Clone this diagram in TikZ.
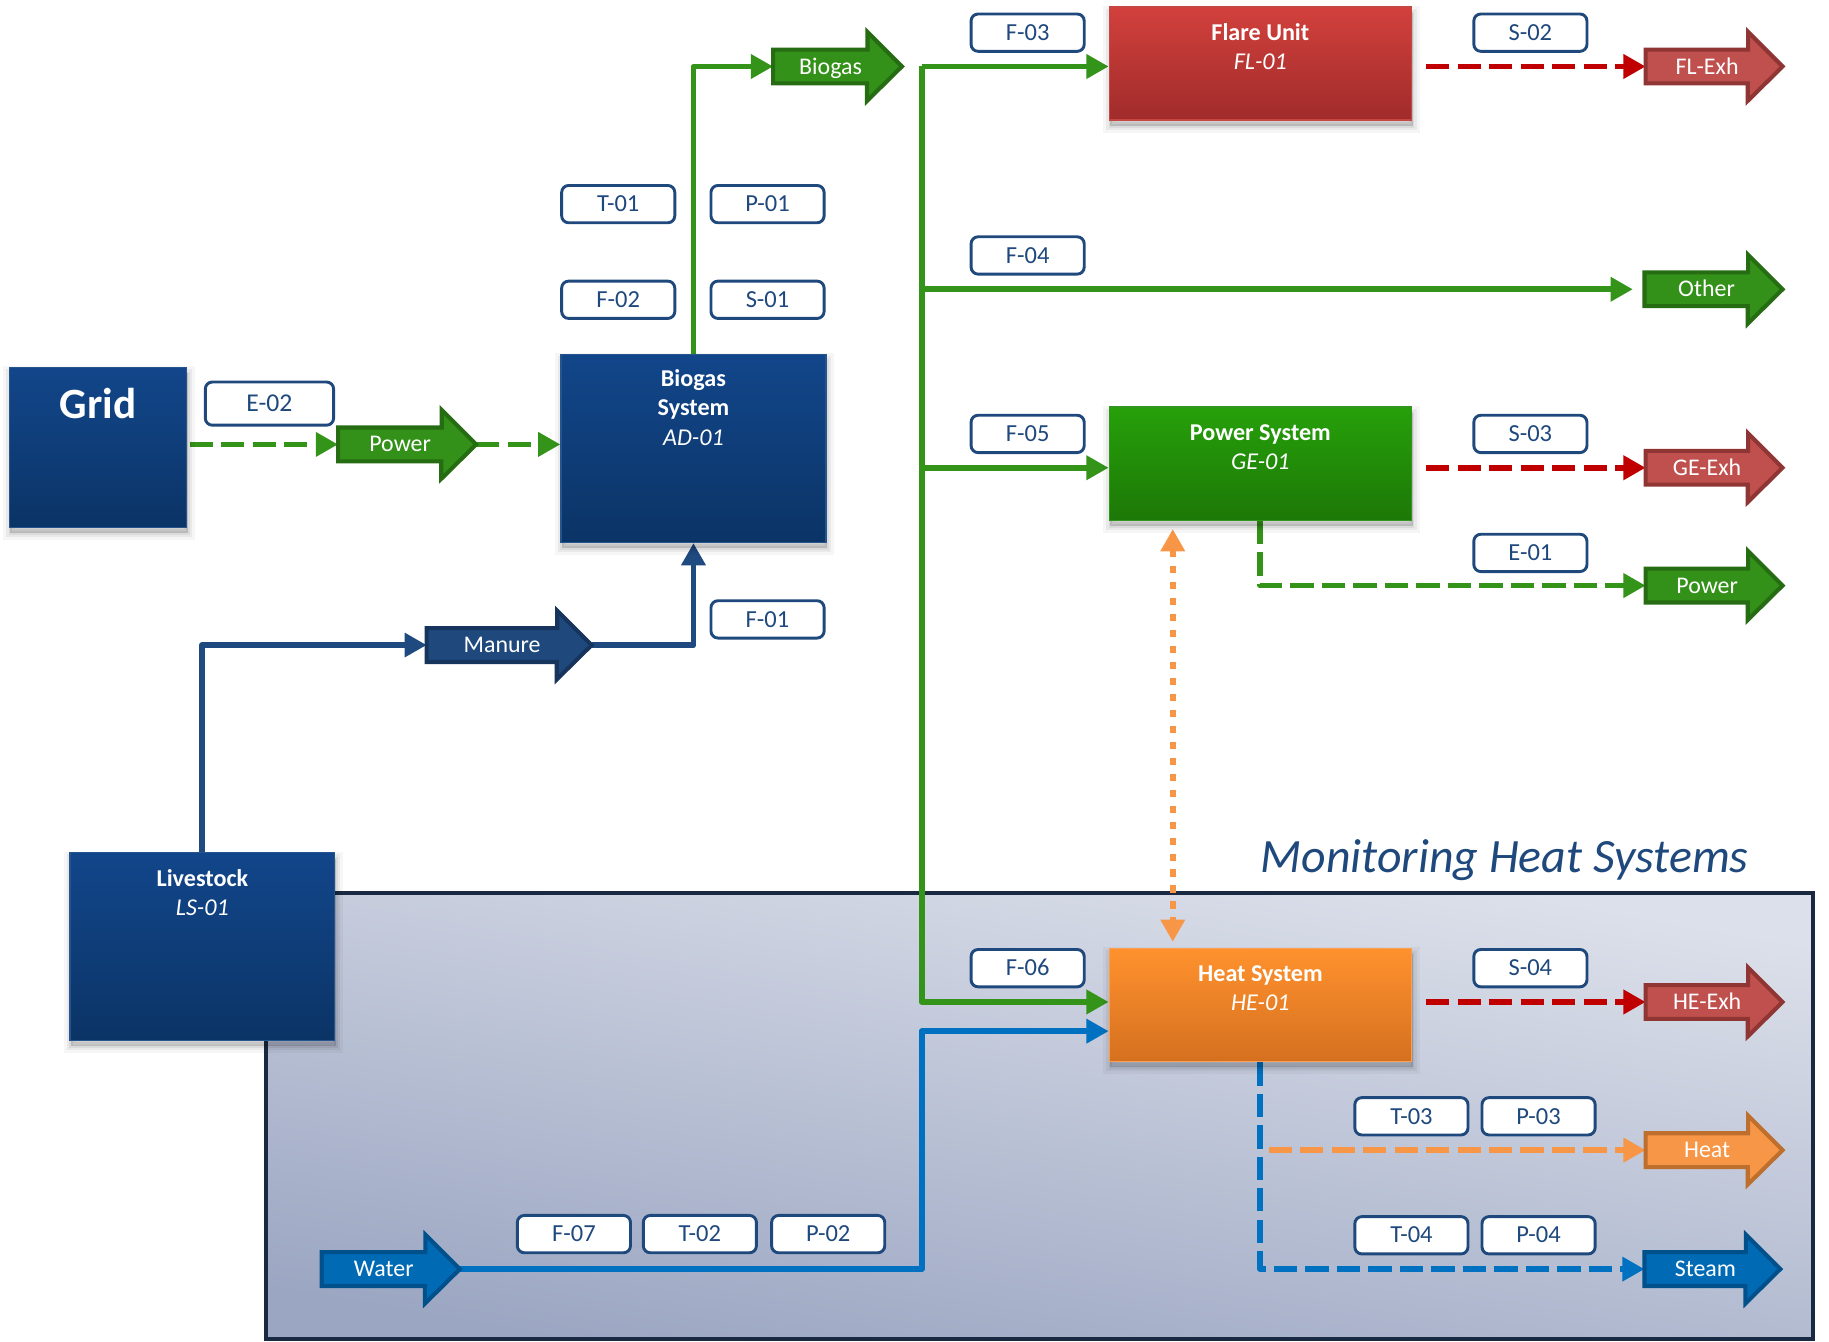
\documentclass[tikz,border=0pt]{standalone}
\usepackage{fontspec}
\setmainfont{Carlito}
\usetikzlibrary{arrows.meta}

% palette
\definecolor{navytop}{RGB}{18,70,138}
\definecolor{navybot}{RGB}{11,52,102}
\definecolor{navyedge}{RGB}{38,84,140}
\definecolor{redtop}{RGB}{210,64,60}
\definecolor{redbot}{RGB}{160,44,43}
\definecolor{rededge}{RGB}{200,70,66}
\definecolor{grntop}{RGB}{38,160,10}
\definecolor{grnbot}{RGB}{29,120,7}
\definecolor{grnedge}{RGB}{50,150,30}
\definecolor{orgtop}{RGB}{255,146,46}
\definecolor{orgbot}{RGB}{213,112,31}
\definecolor{orgedge}{RGB}{250,160,80}
\definecolor{tagblue}{RGB}{31,73,125}
\definecolor{lgreen}{RGB}{51,148,25}
\definecolor{lnavy}{RGB}{31,74,128}
\definecolor{lblue}{RGB}{0,112,192}
\definecolor{lorange}{RGB}{247,150,70}
\definecolor{lred}{RGB}{192,0,0}
\definecolor{fgreen}{RGB}{51,145,25}
\definecolor{egreen}{RGB}{37,108,18}
\definecolor{fred}{RGB}{192,80,77}
\definecolor{ered}{RGB}{143,53,51}
\definecolor{fnavy}{RGB}{31,73,125}
\definecolor{enavy}{RGB}{22,52,92}
\definecolor{forange}{RGB}{247,150,70}
\definecolor{eorange}{RGB}{190,110,45}
\definecolor{fblue}{RGB}{0,106,180}
\definecolor{eblue}{RGB}{0,80,140}
\definecolor{regtop}{RGB}{220,224,234}
\definecolor{regbot}{RGB}{155,166,194}
\definecolor{regedge}{RGB}{26,41,66}

\pgfdeclarelayer{bg}
\pgfsetlayers{bg,main}

% block arrow: name, left x, centre y, length, style, text
\newcommand{\fatarrow}[6]{%
  \node[fatframe, minimum width=#4pt] (#1) at ({#2+#4/2},#3) {};
  \draw[#5] ([yshift=-14.5pt]#1.west) -- ++({#4-29.5},0) -- ++(0,15) -- (#1.east)
     -- ++(-29.5,-29.5) -- ++(0,15) -- ([yshift=14.5pt]#1.west) -- cycle;
  \node[fattext] (#1-t) at ([xshift=-6pt]#1.center) {#6};
}

\tikzset{
  softshadow/.style={
    preaction={draw=black, draw opacity=0.035, line width=12pt, transform canvas={xshift=1pt,yshift=-5pt}},
    preaction={draw=black, draw opacity=0.05, line width=7pt, transform canvas={xshift=1pt,yshift=-5pt}},
    preaction={draw=black, draw opacity=0.06, line width=3pt, fill=black, fill opacity=0.15,
      transform canvas={xshift=1pt,yshift=-5pt}}},
  unit/.style={inner sep=0pt, line width=1.2pt, softshadow},
  navyunit/.style={unit, top color=navytop, bottom color=navybot, draw=navyedge},
  redunit/.style={unit, top color=redtop, bottom color=redbot, draw=rededge},
  grnunit/.style={unit, top color=grntop, bottom color=grnbot, draw=grnedge},
  orgunit/.style={unit, top color=orgtop, bottom color=orgbot, draw=orgedge},
  utext/.style={text=white, align=center, anchor=north, inner sep=0pt,
    font=\fontsize{20.7}{25}\selectfont\bfseries},
  tag/.style={draw=tagblue, line width=2.5pt, rounded corners=6pt, fill=white,
    minimum width=97pt, minimum height=32pt, inner sep=0pt, text=tagblue,
    text height=13.2pt, text depth=0pt, font=\fontsize{21}{25}\selectfont},
  fatframe/.style={rectangle, minimum height=59pt, inner sep=0pt, draw=none},
  fattext/.style={text=white, inner sep=0pt, text height=12.9pt, text depth=0pt,
    font=\fontsize{20.5}{24}\selectfont},
  fatline/.style={line width=3.5pt, line join=miter},
  greenfat/.style={fatline, fill=fgreen, draw=egreen},
  redfat/.style={fatline, fill=fred, draw=ered},
  navyfat/.style={fatline, fill=fnavy, draw=enavy},
  orangefat/.style={fatline, fill=forange, draw=eorange},
  bluefat/.style={fatline, fill=fblue, draw=eblue},
  flow/.style={line width=5pt, line join=round, -{Triangle[length=19pt,width=20pt]}},
  dashflow/.style={flow, dash pattern=on 20pt off 7pt},
  gflow/.style={flow, draw=lgreen},
  nflow/.style={flow, draw=lnavy},
  bflow/.style={flow, draw=lblue},
  gdash/.style={dashflow, draw=lgreen},
  rdash/.style={dashflow, draw=lred},
  bdash/.style={dashflow, draw=lblue},
  odash/.style={dashflow, draw=lorange},
  odots/.style={line width=5pt, draw=lorange, dash pattern=on 6.3pt off 7.4pt,
    {Triangle[length=19pt,width=20pt]}-{Triangle[length=19pt,width=20pt]}},
  region/.style={top color=regtop, bottom color=regbot, shading angle=-10,
    draw=regedge, line width=3.4pt},
  title/.style={text=tagblue, anchor=base, inner sep=0pt,
    font=\fontsize{41}{48}\selectfont\itshape},
}

\begin{document}
\begin{tikzpicture}[x=1pt,y=-1pt]
\useasboundingbox (0,0) rectangle (1568,1150);

% process units
\node[navyunit, minimum width=152pt, minimum height=137pt] (grid) at (84,383.5) {};
\node[utext, anchor=base, font=\fontsize{37}{40}\selectfont\bfseries] (grid-t) at (84,358.8) {Grid};

\node[navyunit, minimum width=227pt, minimum height=161pt] (bio) at (594.5,384.5) {};
\node[utext] (bio-t) at ([yshift=-13pt]bio.north) {\rule{0pt}{15pt}Biogas\\System\\{\mdseries\itshape AD-01}};

\node[navyunit, minimum width=227pt, minimum height=161pt] (ls) at (173.5,811.5) {};
\node[utext] (ls-t) at ([yshift=-14pt]ls.north) {\rule{0pt}{15pt}Livestock\\{\mdseries\itshape LS-01}};

\node[redunit, minimum width=259pt, minimum height=97pt] (flare) at (1080.5,54.5) {};
\node[utext] (flare-t) at ([yshift=-14pt]flare.north) {\rule{0pt}{15pt}Flare Unit\\{\mdseries\itshape FL-01}};

\node[grnunit, minimum width=259pt, minimum height=97pt] (power) at (1080.5,397.5) {};
\node[utext] (power-t) at ([yshift=-14pt]power.north) {\rule{0pt}{15pt}Power System\\{\mdseries\itshape GE-01}};

\node[orgunit, minimum width=259pt, minimum height=97pt] (heat) at (1080.5,861.5) {};
\node[utext] (heat-t) at ([yshift=-14pt]heat.north) {\rule{0pt}{15pt}Heat System\\{\mdseries\itshape HE-01}};

% block arrows for streams
\fatarrow{bgas}{663}{57}{110}{greenfat}{Biogas}
\fatarrow{pwrL}{290}{381}{118}{greenfat}{Power}
\fatarrow{manure}{366}{553}{141}{navyfat}{Manure}
\fatarrow{flexh}{1411}{57}{117}{redfat}{FL-Exh}
\fatarrow{other}{1410}{248}{118}{greenfat}{Other}
\fatarrow{gexh}{1411}{401}{117}{redfat}{GE-Exh}
\fatarrow{pwrR}{1411}{502}{117}{greenfat}{Power}
\fatarrow{hexh}{1411}{859}{117}{redfat}{HE-Exh}
\fatarrow{heatout}{1411}{986}{117}{orangefat}{Heat}
\fatarrow{steam}{1410}{1088}{116}{bluefat}{Steam}
\fatarrow{water}{276}{1088}{118}{bluefat}{Water}

% instrument tags
\node[tag] (t01) at (530,175) {T-01};
\node[tag] (p01) at (658,175) {P-01};
\node[tag] (f02) at (530,257) {F-02};
\node[tag] (s01) at (658,257) {S-01};
\node[tag, minimum width=110pt, minimum height=37pt, font=\fontsize{22}{26}\selectfont, text height=13.9pt] (e02) at (231,346) {E-02};
\node[tag] (f01) at (658,531) {F-01};
\node[tag] (f03) at (881,28) {F-03};
\node[tag] (s02) at (1312,28) {S-02};
\node[tag] (f04) at (881,219) {F-04};
\node[tag] (f05) at (881,372) {F-05};
\node[tag] (s03) at (1312,372) {S-03};
\node[tag] (e01) at (1312,474) {E-01};
\node[tag] (f06) at (881,830) {F-06};
\node[tag] (s04) at (1312,830) {S-04};
\node[tag] (t03) at (1210,957) {T-03};
\node[tag] (p03) at (1319,957) {P-03};
\node[tag] (t04) at (1210,1059) {T-04};
\node[tag] (p04) at (1319,1059) {P-04};
\node[tag] (f07) at (492,1058) {F-07};
\node[tag] (t02) at (600,1058) {T-02};
\node[tag] (p02) at (710,1058) {P-02};

\node[title] (mhs) at (1290,748) {Monitoring Heat Systems};

\begin{pgfonlayer}{bg}
  % monitored area
  \path[region] (228,765.5) rectangle (1554,1148.3);

  % biogas distribution
  \coordinate (tr) at ([xshift=17pt]bgas.east);
  \draw[gflow] (bio.north) |- (bgas.west);
  \draw[gflow] (tr) -- (tr -| flare.west);
  \draw[gflow] (tr) |- (hexh.west -| heat.west);
  \draw[gflow, shorten >=10pt] (tr |- other.west) -- (other.west);
  \draw[gflow] (tr |- gexh.west) -- (gexh.west -| power.west);

  % electricity
  \draw[gdash, shorten <=2pt] (grid.east |- pwrL.west) -- (pwrL.west);
  \draw[gdash] (pwrL.east) -- (pwrL.east -| bio.west);
  \draw[gdash] (power.south) |- (pwrR.west);

  % exhausts
  \draw[rdash, shorten <=12pt] (flare.east |- flexh.west) -- (flexh.west);
  \draw[rdash, shorten <=12pt] (power.east |- gexh.west) -- (gexh.west);
  \draw[rdash, shorten <=12pt] (heat.east |- hexh.west) -- (hexh.west);

  % heat recovery between units
  \draw[odots, shorten <=7pt, shorten >=5pt] ([xshift=55pt]power.south west) -- ([xshift=55pt]heat.north west);

  % heat system outputs
  \draw[bdash] (heat.south) |- (steam.west);
  \draw[odash, shorten <=7pt] (heat.south |- heatout.west) -- (heatout.west);

  % water feed
  \coordinate (win) at ([yshift=-22.5pt]heat.west);
  \draw[bflow] (water.east) -| (tr |- win) -- (win);

  % manure feed
  \draw[nflow] (ls.north) |- (manure.west);
  \draw[nflow] (manure.east) -| (bio.south);
\end{pgfonlayer}
\end{tikzpicture}
\end{document}
